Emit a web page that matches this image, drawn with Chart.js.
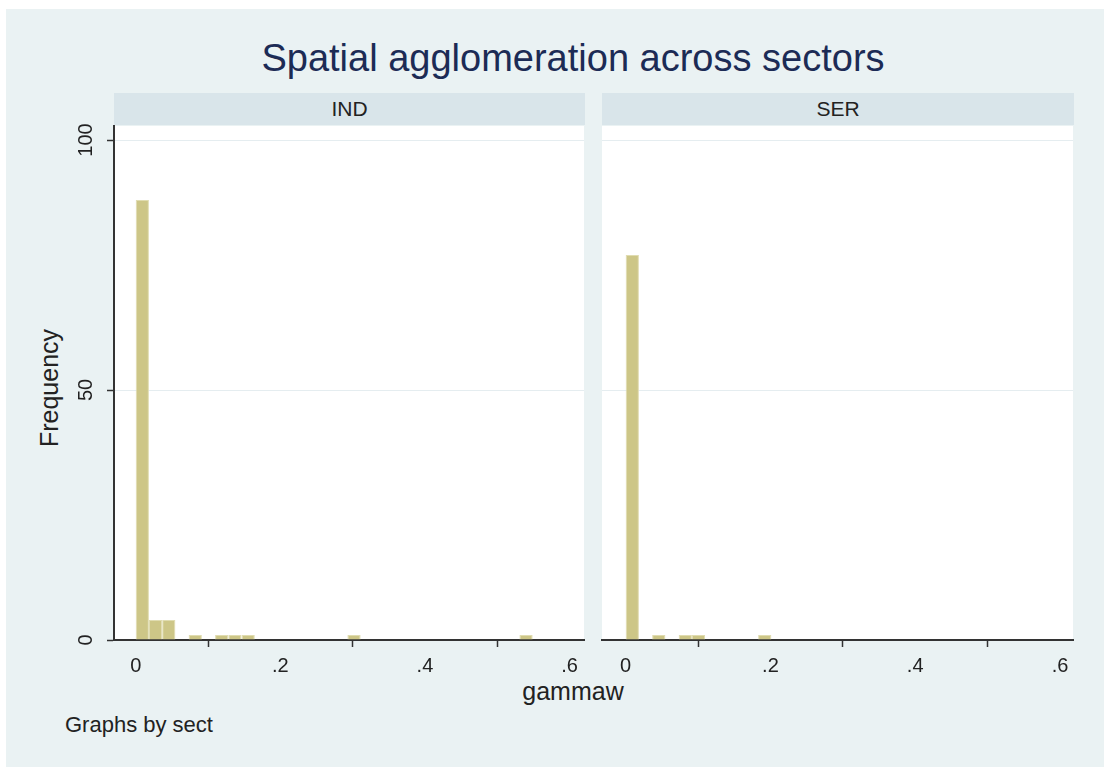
<!DOCTYPE html>
<html>
<head>
<meta charset="utf-8">
<script src="https://cdn.jsdelivr.net/npm/chart.js@4.4.1/dist/chart.umd.min.js"></script>
<style>
  html, body { margin:0; padding:0; background:#ffffff; }
  body { width:1104px; height:767px; position:relative; overflow:hidden; font-family:"Liberation Sans", Arial, sans-serif; }
  #bg { position:absolute; left:6px; top:9px; width:1098px; height:758px; background:#EAF2F3; }
  .txt { position:absolute; white-space:nowrap; color:#222; }
  #title { left:0; width:1146px; top:38px; height:40px; line-height:40px; font-size:38px; text-align:center; color:#1C2B55; }
  .strip { position:absolute; top:93px; height:32px; line-height:32px; background:#D9E5EA; text-align:center; font-size:21px; color:#222; }
  #ytitle { left:49px; top:388px; font-size:25px; line-height:30px; transform:translate(-50%,-50%) rotate(-90deg); }
  #xtitle { left:0; width:1146px; top:676px; font-size:25px; line-height:30px; text-align:center; }
  #note { left:65px; top:711px; font-size:22px; line-height:28px; }
  canvas { position:absolute; }
</style>
</head>
<body>
<div id="bg"></div>
<div id="title" class="txt">Spatial agglomeration across sectors</div>
<div class="strip" style="left:114px;width:471px;">IND</div>
<div class="strip" style="left:602px;width:472px;">SER</div>
<div id="ytitle" class="txt">Frequency</div>
<div id="xtitle" class="txt">gammaw</div>
<div id="note" class="txt">Graphs by sect</div>
<canvas id="cInd" width="560" height="590" style="left:30px;top:120px;"></canvas>
<canvas id="cSer" width="484" height="590" style="left:596px;top:120px;"></canvas>
<script>
// ---- data ----
const panels = ['IND', 'SER'];
const binWidth = 0.0183;                 // histogram bin width (gammaw units)
const indCounts = [88,4,4,0,1,0,1,1,1,0,0,0,0,0,0,0,1,0,0,0,0,0,0,0,0,0,0,0,0,1];
const serCounts = [77,0,1,0,1,1,0,0,0,0,1,0,0,0,0,0,0,0,0,0,0,0,0,0,0,0,0,0,0,0];
const xTickValues = [0, 0.2, 0.4, 0.6];
const xTickLabels = ['0', '.2', '.4', '.6'];
const yTickValues = [0, 50, 100];
const yTickLabels = ['0', '50', '100'];

const FONT = '"Liberation Sans", Arial, sans-serif';
const BAR = 'rgb(205,198,135)';
const BAR_EDGE = 'rgb(224,220,176)';

function toPoints(counts) {
  return counts.map((c, i) => ({ x: (i + 0.5) * binWidth, y: c }));
}

const plotBg = {
  id: 'plotBg',
  beforeDraw(chart) {
    const { ctx, chartArea: a } = chart;
    ctx.save();
    ctx.fillStyle = '#ffffff';
    ctx.fillRect(a.left, a.top, a.right - a.left, a.bottom - a.top);
    ctx.restore();
  }
};

const yLabels = {
  id: 'yLabels',
  afterDraw(chart, args, opts) {
    if (!opts.show) return;
    const { ctx } = chart;
    const ys = chart.scales.y;
    ctx.save();
    ctx.font = '20px ' + FONT;
    ctx.fillStyle = '#222';
    ctx.textAlign = 'center';
    ctx.textBaseline = 'middle';
    yTickValues.forEach((v, i) => {
      const py = ys.getPixelForValue(v);
      ctx.save();
      ctx.translate(chart.chartArea.left - 28, py);
      ctx.rotate(-Math.PI / 2);
      ctx.fillText(yTickLabels[i], 0, 0);
      ctx.restore();
    });
    ctx.restore();
  }
};

function makeChart(id, counts, withYAxis, xMin, xMax, padRight) {
  return new Chart(document.getElementById(id), {
    type: 'bar',
    data: {
      datasets: [{
        data: toPoints(counts),
        backgroundColor: BAR,
        borderColor: BAR_EDGE,
        borderWidth: (c) => (c.raw && c.raw.y > 0 ? 1 : 0),
        borderSkipped: 'bottom',
        inflateAmount: 0,
        barPercentage: 1,
        categoryPercentage: 1
      }]
    },
    options: {
      responsive: false,
      animation: false,
      devicePixelRatio: 1,
      layout: { padding: { top: 6, bottom: 10, left: 0, right: padRight } },
      plugins: {
        legend: { display: false },
        tooltip: { enabled: false },
        title: { display: false },
        yLabels: { show: withYAxis }
      },
      scales: {
        x: {
          type: 'linear',
          z: 1,
          min: xMin, max: xMax,
          offset: false,
          afterBuildTicks: (s) => { s.ticks = xTickValues.map(v => ({ value: v })); },
          afterFit: (s) => { s.height = 60; },
          ticks: {
            autoSkip: false, maxRotation: 0, minRotation: 0,
            padding: 7,
            color: '#222',
            font: { size: 20, family: FONT },
            callback: (v, i) => xTickLabels[i]
          },
          grid: { drawOnChartArea: false, drawTicks: true, tickLength: 7, tickColor: '#333', tickWidth: 1.5 },
          border: { display: true, color: '#333', width: 2 }
        },
        y: {
          min: 0, max: 102.8,
          afterBuildTicks: (s) => { s.ticks = yTickValues.map(v => ({ value: v })); },
          afterFit: (s) => { s.width = withYAxis ? 84 : 6; },
          ticks: { display: false },
          grid: {
            color: (c) => (c.tick && c.tick.value === 0 ? 'rgba(0,0,0,0)' : '#E5EDF0'),
            lineWidth: 1,
            drawTicks: withYAxis, tickLength: 7, tickColor: '#333', tickWidth: 1.5
          },
          border: { display: withYAxis, color: '#333', width: 2 }
        }
      }
    },
    plugins: [plotBg, yLabels]
  });
}

makeChart('cInd', indCounts, true, -0.030, 0.62, 6);
makeChart('cSer', serCounts, false, -0.0327, 0.618, 7);
</script>
</body>
</html>
